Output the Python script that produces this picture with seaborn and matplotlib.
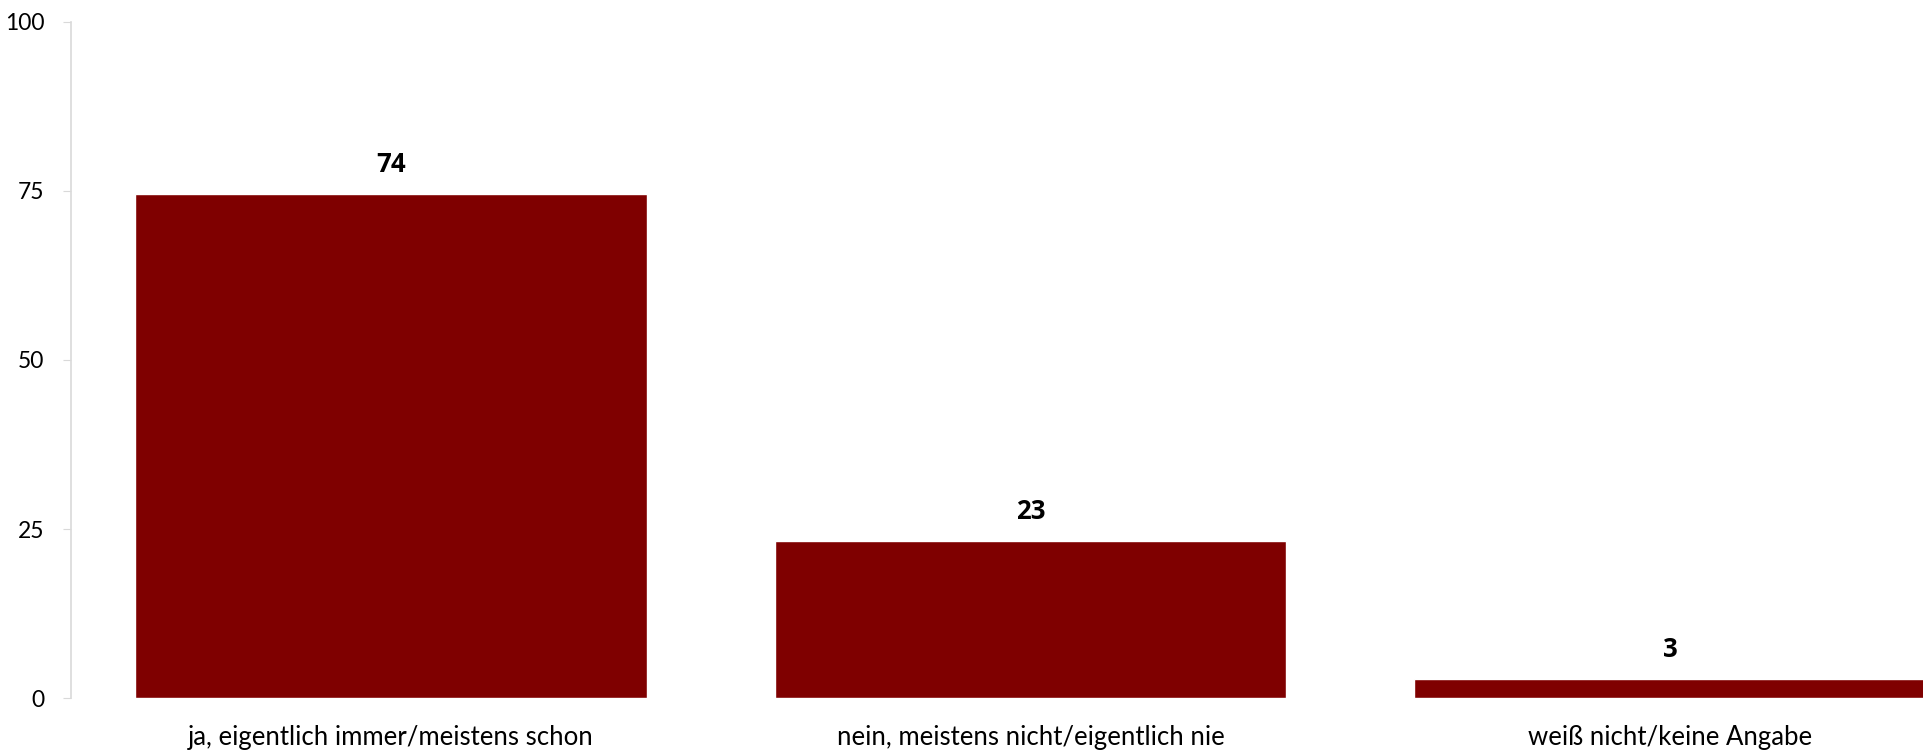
import matplotlib
matplotlib.use('Agg')
import matplotlib.pyplot as plt
import seaborn as sns
import pandas as pd

# values (percent)
categories = ['ja, eigentlich immer/meistens schon',
              'nein, meistens nicht/eigentlich nie',
              'weiß nicht/keine Angabe']
values = [74.6, 23.2, 2.8]
labels = ['74', '23', '3']
yticks = [0, 25, 50, 75, 100]

bar_color = '#7f0000'

sns.set_style('white')
plt.rcParams['font.family'] = ['Lato', 'DejaVu Sans']
plt.rcParams['text.color'] = 'black'
plt.rcParams['xtick.labelcolor'] = 'black'
plt.rcParams['ytick.labelcolor'] = 'black'

df = pd.DataFrame({'answer': categories, 'share': values})

fig = plt.figure(figsize=(19.23, 7.5), dpi=100)
ax = fig.add_axes([0.0369, 0.0693, 0.9631, 0.9014])

sns.barplot(data=df, x='answer', y='share', color=bar_color, width=0.8,
            saturation=1, ax=ax)

for i, (v, lab) in enumerate(zip(values, labels)):
    ax.annotate(lab, (i, v), xytext=(0, 16), textcoords='offset pixels',
                ha='center', va='bottom', fontsize=18.5, fontweight='bold',
                color='black', family=['Open Sans', 'DejaVu Sans'])

ax.set_xlim(-0.5, 2.395)
ax.set_ylim(0, 100)
ax.set_yticks(yticks)
ax.set_xlabel('')
ax.set_ylabel('')

sns.despine(ax=ax, top=True, right=True, bottom=True)
ax.spines['left'].set_color('#d9d9d9')
ax.spines['left'].set_linewidth(1.2)
ax.tick_params(axis='y', left=True, length=6, color='#d9d9d9', labelsize=16.5,
               pad=13, labelcolor='black')
ax.tick_params(axis='x', bottom=False, labelsize=18.5, pad=16, labelcolor='black')

fig.savefig('out.png', dpi=100)
